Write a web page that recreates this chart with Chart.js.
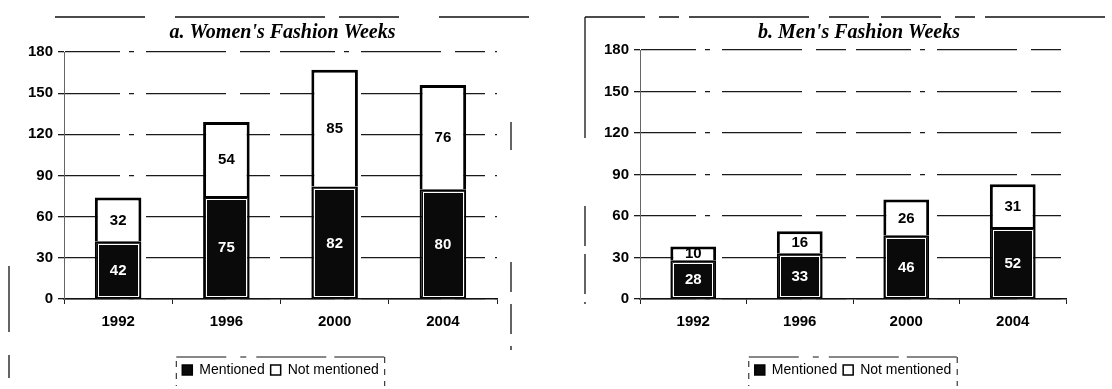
<!DOCTYPE html>
<html>
<head>
<meta charset="utf-8">
<script src="https://cdn.jsdelivr.net/npm/chart.js@4.4.1/dist/chart.umd.min.js"></script>
<style>
    html, body { margin: 0; padding: 0; background: #fff; }
    body { width: 1112px; height: 389px; position: relative; overflow: hidden; }
    .panel { position: absolute; top: 0; height: 389px; }
    #wrapA { left: 0; width: 560px; }
    #wrapB { left: 576px; width: 536px; }
</style>
</head>
<body>
<div class="panel" id="wrapA"><canvas id="womenChart"></canvas></div>
<div class="panel" id="wrapB"><canvas id="menChart"></canvas></div>
<script>
// survey years and counts per fashion week
const years = ["1992", "1996", "2000", "2004"];
const womenMentioned = [42, 75, 82, 80];
const womenNotMentioned = [32, 54, 85, 76];
const menMentioned = [28, 33, 46, 52];
const menNotMentioned = [10, 16, 26, 31];
const seriesNames = ["Mentioned", "Not mentioned"];
const yMax = 180;
const yStep = 30;

const SANS = '"Liberation Sans", Arial, sans-serif';
const SERIF = '"Liberation Serif", "Times New Roman", serif';

// panel heading drawn over the middle of the plot area
const panelTitle = {
    id: "panelTitle",
    afterDraw(chart, args, opts) {
        const ctx = chart.ctx;
        const a = chart.chartArea;
        ctx.save();
        ctx.font = "bold italic 20px " + SERIF;
        ctx.fillStyle = "#000";
        ctx.textAlign = "center";
        ctx.textBaseline = "middle";
        ctx.fillText(opts.text, (a.left + a.right) / 2 + (opts.shift || 0), 33);
        ctx.restore();
    }
};

// value labels in the middle of each segment, plus the thin white inner edge on dark bars
const segmentLabels = {
    id: "segmentLabels",
    afterDatasetsDraw(chart) {
        const ctx = chart.ctx;
        chart.data.datasets.forEach((ds, di) => {
            const meta = chart.getDatasetMeta(di);
            meta.data.forEach((bar, i) => {
                const left = Math.round(bar.x - bar.width / 2);
                const top = Math.round(bar.y);
                ctx.save();
                if (di === 0) {
                    ctx.strokeStyle = "#fff";
                    ctx.lineWidth = 1;
                    ctx.strokeRect(left + 3.5, top + 3.5, Math.round(bar.width) - 7, Math.round(bar.base) - top - 5);
                }
                ctx.font = "bold 15px " + SANS;
                ctx.textAlign = "center";
                ctx.textBaseline = "middle";
                ctx.fillStyle = di === 0 ? "#fff" : "#000";
                ctx.fillText(String(ds.data[i]), bar.x, (bar.y + bar.base) / 2 + 1);
                ctx.restore();
            });
        });
    }
};

// broken frame lines around the panel and the legend
const frameLines = {
    id: "frameLines",
    afterDraw(chart, args, opts) {
        const ctx = chart.ctx;
        ctx.save();
        ctx.strokeStyle = "#111";
        ctx.lineWidth = 1.3;
        (opts.segments || []).forEach(s => {
            ctx.setLineDash(s[4] || []);
            ctx.beginPath();
            ctx.moveTo(s[0], s[1]);
            ctx.lineTo(s[2], s[3]);
            ctx.stroke();
        });
        const hits = chart.legend.legendHitBoxes;
        if (hits && hits.length) {
            const l = hits[0].left - 6;
            const r = hits[hits.length - 1].left + hits[hits.length - 1].width + 6;
            const t = hits[0].top - 6;
            const b = hits[0].top + hits[0].height + 9;
            ctx.lineWidth = 1;
            ctx.setLineDash([50, 14, 6, 10, 70, 8]);
            ctx.beginPath();
            ctx.moveTo(l, t); ctx.lineTo(r, t);
            ctx.stroke();
            ctx.setLineDash([6, 6]);
            ctx.beginPath();
            ctx.moveTo(r, t); ctx.lineTo(r, b);
            ctx.moveTo(l, t + 4); ctx.lineTo(l, b);
            ctx.stroke();
        }
        ctx.restore();
    }
};

function makeChart(canvasId, mentioned, notMentioned, title, yWidth, padLeft, padRight, padTop, frame) {
    return new Chart(document.getElementById(canvasId), {
        type: "bar",
        data: {
            labels: years,
            datasets: [
                {
                    label: seriesNames[0],
                    data: mentioned,
                    backgroundColor: "#0a0a0a",
                    borderColor: "#000",
                    borderWidth: 2,
                    borderSkipped: false,
                    categoryPercentage: 1,
                    barPercentage: 0.43
                },
                {
                    label: seriesNames[1],
                    data: notMentioned,
                    backgroundColor: "#fff",
                    borderColor: "#000",
                    borderWidth: 3,
                    borderSkipped: "bottom",
                    categoryPercentage: 1,
                    barPercentage: 0.43
                }
            ]
        },
        options: {
            responsive: true,
            maintainAspectRatio: false,
            animation: false,
            devicePixelRatio: 1,
            layout: { padding: { left: padLeft, right: padRight, top: padTop, bottom: 2 } },
            plugins: {
                tooltip: { enabled: false },
                panelTitle: { text: title.text, shift: title.shift },
                frameLines: { segments: frame },
                legend: {
                    position: "bottom",
                    fullSize: false,
                    labels: {
                        color: "#000",
                        font: { family: SANS, size: 14 },
                        boxWidth: 10,
                        boxHeight: 10,
                        padding: 6,
                        generateLabels(chart) {
                            const items = Chart.defaults.plugins.legend.labels.generateLabels(chart);
                            items.forEach(it => { it.lineWidth = 1.5; });
                            return items;
                        }
                    }
                }
            },
            scales: {
                x: {
                    stacked: true,
                    grid: { drawOnChartArea: false, drawTicks: true, tickLength: 5, color: "#222", offset: true },
                    border: { display: true, color: "#111", width: 1.5, dash: [40, 6, 10, 6] },
                    ticks: { color: "#000", font: { family: SANS, size: 15, weight: "bold" }, padding: 9 },
                    afterFit(scale) { scale.height = 58; }
                },
                y: {
                    stacked: true,
                    min: 0,
                    max: yMax,
                    ticks: {
                        stepSize: yStep,
                        color: "#000",
                        font: { family: SANS, size: 15, weight: "bold" },
                        padding: 5
                    },
                    grid: { color: "#1a1a1a", lineWidth: 1.3, tickLength: 6 },
                    border: { display: true, color: "#666", width: 1, dash: [55, 9, 5, 12, 80, 14, 30, 10] },
                    afterFit(scale) { scale.width = yWidth; }
                }
            }
        },
        plugins: [segmentLabels, panelTitle, frameLines]
    });
}

makeChart("womenChart", womenMentioned, womenNotMentioned,
    { text: "a. Women's Fashion Weeks", shift: 2 }, 64, 0, 63, 52,
    [
        [55, 17, 548, 17, [90, 30, 150, 14, 60, 40]],
        [511, 122, 511, 150],
        [511, 262, 511, 350, [30, 12]],
        [9, 266, 9, 332],
        [9, 355, 9, 378]
    ]);

makeChart("menChart", menMentioned, menNotMentioned,
    { text: "b. Men's Fashion Weeks", shift: 6 }, 40, 24, 46, 50,
    [
        [9, 17, 536, 17, [60, 14, 20, 10, 120, 20, 40, 12]],
        [9, 17, 9, 138],
        [9, 206, 9, 304, [40, 8]]
    ]);
</script>
</body>
</html>
